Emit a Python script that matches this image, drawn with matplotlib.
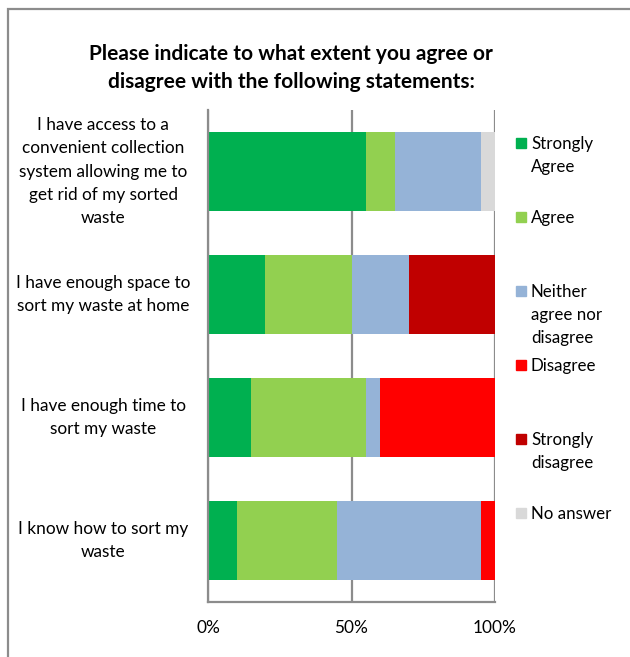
import matplotlib.pyplot as plt
from matplotlib.patches import Rectangle
import numpy as np

plt.rcParams['font.family'] = ['Lato', 'DejaVu Sans']

statements = [
    "I have access to a\nconvenient collection\nsystem allowing me to\nget rid of my sorted\nwaste",
    "I have enough space to\nsort my waste at home",
    "I have enough time to\nsort my waste",
    "I know how to sort my\nwaste",
]
answers = ["Strongly\nAgree", "Agree", "Neither\nagree nor\ndisagree",
           "Disagree", "Strongly\ndisagree", "No answer"]
colors = ["#00B050", "#92D050", "#95B3D7", "#FF0000", "#C00000", "#D9D9D9"]

# share of respondents (%) per statement, one list per answer
strongly_agree = [55, 20, 15, 10]
agree = [10, 30, 40, 35]
neither = [30, 20, 5, 50]
disagree = [0, 0, 40, 5]
strongly_disagree = [0, 30, 0, 0]
no_answer = [5, 0, 0, 0]
shares = [strongly_agree, agree, neither, disagree, strongly_disagree, no_answer]

fig = plt.figure(figsize=(6.3, 6.57), dpi=100)
W, H = 630, 657

# outer chart frame
fig.add_artist(Rectangle((8 / W, -0.1), 1.2, (H - 9) / H + 0.1,
                         transform=fig.transFigure, fill=False,
                         edgecolor="#8c8c8c", linewidth=1.6))

ax = fig.add_axes([208 / W, 55 / H, 287 / W, 492 / H])
y = np.arange(len(statements))
left = np.zeros(len(statements))
for vals, col in zip(shares, colors):
    vals = np.array(vals, dtype=float)
    ax.barh(y, vals, left=left, height=0.65, color=col, zorder=2)
    left += vals

ax.set_xlim(0, 100)
ax.set_ylim(len(statements) - 0.5, -0.5)
ax.set_xticks([0, 50, 100])
ax.set_xticklabels(["0%", "50%", "100%"], fontsize=12.4)
ax.set_yticks([])
ax.tick_params(axis="x", length=0, pad=13)
ax.xaxis.grid(True, color="#8c8c8c", linewidth=1.6, zorder=1)
for side in ["top", "right"]:
    ax.spines[side].set_visible(False)
for side in ["left", "bottom"]:
    ax.spines[side].set_color("#8c8c8c")
    ax.spines[side].set_linewidth(1.6)

for i, s in enumerate(statements):
    ax.text(-0.365, i, s, transform=ax.get_yaxis_transform(),
            ha="center", va="center", fontsize=12.4, linespacing=1.54)

fig.text(291 / W, 1 - 67.5 / H,
         "Please indicate to what extent you agree or\ndisagree with the following statements:",
         ha="center", va="center", fontsize=15, fontweight="bold",
         linespacing=1.5)

# legend, entries stacked at a fixed pitch
for i, (lab, col) in enumerate(zip(answers, colors)):
    ytop = 143 + 74 * i
    fig.add_artist(Rectangle((516 / W, 1 - (ytop + 5) / H), 10 / W, 10 / H,
                             transform=fig.transFigure, color=col))
    fig.text(531 / W, 1 - (ytop - 7) / H, lab, ha="left", va="top",
             fontsize=12.2, linespacing=1.54)

fig.savefig("out.png", dpi=100)
